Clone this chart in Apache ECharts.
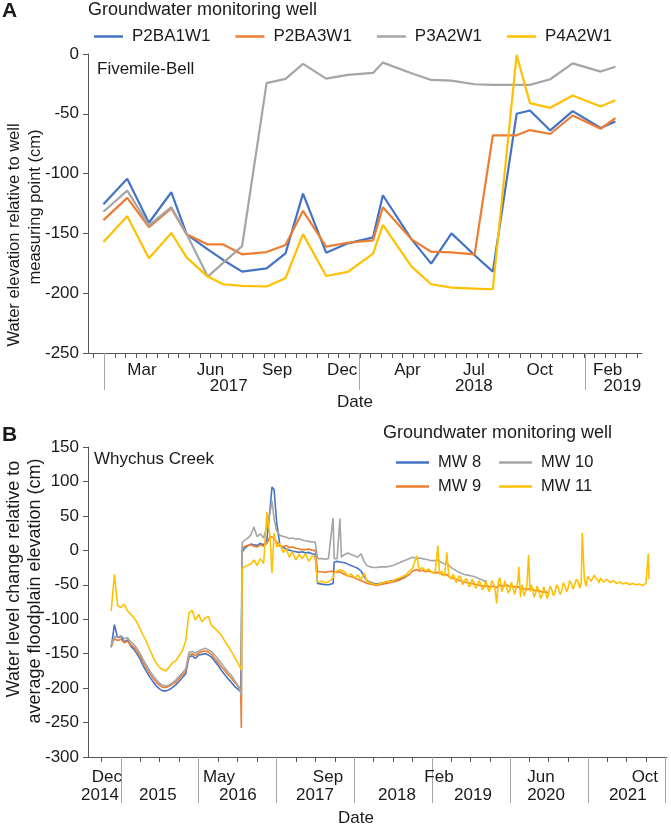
<!DOCTYPE html>
<html><head><meta charset="utf-8">
<script src="https://cdn.jsdelivr.net/npm/echarts@6/dist/echarts.min.js"></script>
<style>html,body{margin:0;padding:0;background:#fff}#c{width:671px;height:826px}</style>
</head><body><div id="c"></div>
<script>
// ---------------- Panel A data (Fivemile-Bell) ----------------
const wellsA = ['P2BA1W1', 'P2BA3W1', 'P3A2W1', 'P4A2W1'];
const datesA = ['2016-12-31','2017-02-03','2017-03-06','2017-04-07','2017-04-29','2017-05-29','2017-06-20','2017-07-17','2017-08-21','2017-09-17','2017-10-12','2017-11-14','2017-12-15','2018-01-20','2018-02-03','2018-03-16','2018-04-13','2018-05-12','2018-06-14','2018-07-10','2018-08-13','2018-09-01','2018-09-30','2018-11-01','2018-12-11','2019-01-01'];
const p2ba1w1 = [-125.6,-104.4,-141.1,-115.6,-150.8,-163.3,-172.2,-182,-179.2,-166.7,-116.7,-166.1,-158.3,-153.3,-118.1,-155,-175.3,-150,-168.3,-182,-50,-47.2,-63.9,-47.8,-61.9,-56.4];
const p2ba3w1 = [-138.9,-120.3,-144.7,-129.2,-150.8,-159.2,-159.2,-167.5,-165.6,-159.7,-131.1,-161.1,-157.8,-155.8,-128.1,-155,-165.3,-165.8,-167.5,-68,-68,-63.6,-66.9,-51.4,-62.5,-53.6];
const p3a2w1 = [-131.9,-114.2,-143.3,-128.1,-150.8,-186.1,-174.7,-160.6,-24.4,-20.8,-8.3,-20.6,-17.5,-15.8,-7.2,-16.1,-21.7,-22.2,-25.3,-25.8,-25.8,-25.8,-21.1,-7.8,-14.7,-10.6];
const p4a2w1 = [-157.2,-135.6,-170.8,-149.7,-170.3,-186.1,-192.5,-193.9,-194.4,-187.5,-150.6,-185.6,-182.2,-166.9,-142.8,-177.8,-192.5,-195.3,-196.1,-196.7,-0.8,-41.1,-45,-34.7,-43.9,-38.6];
const yTicksA = [-250, 0, 50];           // min, max, interval
const monthLabelsA = ['Mar','Jun','Sep','Dec','Apr','Jul','Oct','Feb'];
const monthLabelDatesA = ['2017-02-24','2017-06-02','2017-09-05','2017-12-07','2018-03-10','2018-06-13','2018-09-15','2018-12-21'];
const yearLabelsA = ['2017','2018','2019'];
const yearLabelDatesA = ['2017-06-28','2018-06-13','2019-01-11'];
const yearSepA = ['2017-01-01','2017-12-31','2018-11-19'];

// ---------------- Panel B data (Whychus Creek) ----------------
const wellsB = ['MW 8', 'MW 9', 'MW 10', 'MW 11'];
const datesB = ['2014-11-16','2014-12-01','2014-12-16','2015-01-01','2015-01-16','2015-02-01','2015-02-16','2015-03-01','2015-03-16','2015-04-01',
'2015-04-16','2015-05-01','2015-05-16','2015-06-01','2015-06-16','2015-07-01','2015-07-16','2015-08-01','2015-08-16','2015-09-01',
'2015-09-16','2015-10-01','2015-10-16','2015-11-01','2015-11-16','2015-12-01','2015-12-16','2016-01-01','2016-01-16','2016-02-01',
'2016-02-16','2016-03-01','2016-03-16','2016-04-01','2016-04-16','2016-05-01','2016-05-16','2016-06-01','2016-06-16','2016-07-01',
'2016-07-16','2016-07-19','2016-07-23','2016-08-01','2016-08-16','2016-09-01','2016-09-16','2016-10-01','2016-10-16','2016-11-01',
'2016-11-16','2016-12-01','2016-12-10','2016-12-20','2017-01-01','2017-01-16','2017-02-01','2017-02-16','2017-03-01','2017-03-16',
'2017-04-01','2017-04-16','2017-05-01','2017-05-16','2017-06-01','2017-06-16','2017-07-01','2017-07-12','2017-08-01','2017-08-16',
'2017-09-01','2017-09-23','2017-09-28','2017-10-12','2017-10-25','2017-11-01','2017-11-16','2017-12-01','2017-12-16','2018-01-01',
'2018-01-16','2018-02-01','2018-02-16','2018-03-01','2018-03-16','2018-04-01','2018-04-16','2018-05-01','2018-05-16','2018-06-01',
'2018-06-16','2018-07-01','2018-07-16','2018-08-01','2018-08-16','2018-09-01','2018-09-16','2018-10-01','2018-10-21','2018-11-01',
'2018-11-16','2018-12-01','2018-12-16','2019-01-01','2019-01-16','2019-01-28','2019-02-05','2019-02-16','2019-03-01','2019-03-11',
'2019-03-20','2019-04-01','2019-04-16','2019-05-01','2019-05-16','2019-06-01','2019-06-16','2019-07-01','2019-07-16','2019-08-01',
'2019-08-16','2019-09-01','2019-09-16','2019-10-01','2019-10-16','2019-10-31','2019-11-08','2019-11-16','2019-12-01','2019-12-16',
'2020-01-01','2020-01-16','2020-02-01','2020-02-12','2020-02-20','2020-03-01','2020-03-16','2020-03-29','2020-04-05','2020-04-16',
'2020-05-01','2020-05-16','2020-06-01','2020-06-16','2020-07-01','2020-07-16','2020-08-01','2020-08-16','2020-09-01','2020-09-16',
'2020-10-01','2020-10-16','2020-11-01','2020-11-16','2020-12-01','2020-12-06','2020-12-16','2021-01-01','2021-01-16','2021-02-01',
'2021-02-16','2021-03-01','2021-03-16','2021-04-01','2021-04-16','2021-05-01','2021-05-16','2021-06-01','2021-06-16','2021-07-01',
'2021-07-16','2021-08-01','2021-08-16','2021-09-01','2021-09-16','2021-10-01','2021-10-12','2021-10-16'];
const mw8 = [-141,-108,-127,-125,-133,-130,-139,-143,-150,-158,
-168,-176,-184,-191,-197,-201,-204,-204,-202,-199,
-195,-190,-185,-179,-155,-153,-157,-152,-151,-150,
-152,-155,-161,-167,-174,-180,-186,-191,-197,-201,
-205,-207,-3,2,6,9,8,7,10,8,
15,60,92,88,40,8,4,2,0,-1,
-2,-3,-2,-4,-3,-5,-6,-48,-49,-50,
-50,-48,-17,-16,-17,-16,-18,-20,-22,-24,
-26,-30,-38,-44,-46,-48,-49,-48,-47,-46,
-45,-44,-43,-42,-40,-38];
const mw9 = [-140,-128,-131,-129,-134,-132,-137,-140,-146,-154,
-163,-171,-179,-186,-192,-196,-199,-199,-197,-194,
-191,-186,-181,-175,-152,-150,-153,-149,-147,-146,
-148,-151,-157,-163,-169,-174,-180,-185,-191,-196,
-201,-258,4,6,7,8,6,5,8,6,
10,20,22,18,12,6,5,7,4,5,
3,2,1,1,2,0,0,-31,-31,-32,
-31,-30,-31,-32,-31,-33,-35,-37,-38,-40,
-42,-44,-46,-48,-49,-50,-51,-50,-49,-48,
-47,-46,-45,-43,-41,-38,-35,-30,-28,-30,
-29,-31,-30,-32,-33,-32,-34,-35,-36,-35,
-38,-40,-41,-43,-44,-46,-47,-48,-49,-50,
-51,-52,-52,-53,-52,-54,-52,-50,-52,-50,
-53,-52,-54,-53,-56,-55,-57,-56,-58,-57,
-59,-58,-61,-60,-62];
const mw10 = [-137,-125,-126,-124,-128,-127,-133,-136,-142,-150,
-159,-167,-175,-182,-188,-193,-196,-197,-195,-192,
-188,-183,-178,-172,-148,-147,-149,-146,-144,-142,
-145,-147,-152,-158,-164,-170,-176,-181,-188,-195,
-207,-211,11,14,17,22,34,20,24,18,
35,55,72,45,28,22,20,19,17,18,
16,17,15,14,13,12,12,-12,-12,-13,
-12,47,-12,-12,46,-10,-6,-4,-6,-8,
-10,-5,-16,-22,-24,-25,-25,-24,-24,-24,
-23,-22,-20,-18,-16,-14,-12,-10,-12,-11,
-12,-13,-14,-15,-15,-14,-16,-18,-20,-18,
-22,-25,-28,-31,-33,-35,-36,-37,-38,-40,
-42,-44,-45];
const mw11 = [-88,-35,-80,-83,-78,-88,-93,-97,-104,-114,
-124,-133,-144,-155,-164,-170,-173,-175,-169,-163,
-160,-153,-146,-131,-91,-87,-101,-93,-104,-98,
-96,-109,-113,-118,-123,-131,-138,-146,-154,-163,
-171,-174,-27,-24,-22,-20,-14,-22,-12,-19,
56,20,-33,25,5,10,-3,2,-10,-2,
-14,-6,-12,-5,-16,-8,-11,-46,-45,-47,
-46,-40,-33,-30,-28,-30,-31,-38,-34,-40,
-36,-42,-33,-45,-47,-49,-50,-48,-47,-45,
-46,-44,-42,-40,-38,-35,-30,-26,-8,-28,
-25,-30,-27,-33,-30,7,-35,-30,-38,-3,
-36,-42,-38,-45,-40,-48,-44,-50,-46,-52,
-48,-54,-50,-56,-48,-77,-45,-40,-55,-42,
-58,-48,-52,-24,-68,-50,-58,-7,-60,-55,
-62,-58,-65,-60,-63,-57,-60,-55,-58,-52,
-54,-48,-50,-45,-48,25,-42,-38,-45,-36,
-43,-40,-46,-42,-47,-44,-48,-46,-49,-47,
-50,-48,-50,-49,-51,-48,-5,-42];
// additional (denser) MW 11 readings, 2019-2021
const datesB11x = ['2019-04-08','2019-04-24','2019-05-08','2019-05-24','2019-06-08','2019-06-24','2019-07-08','2019-07-24','2019-08-08','2019-08-24',
'2019-09-08','2019-09-24','2019-10-08','2019-10-24','2019-11-24','2019-12-08','2019-12-24','2020-01-08','2020-01-24','2020-02-08',
'2020-02-26','2020-03-08','2020-03-22','2020-04-10','2020-04-24','2020-05-08','2020-05-24','2020-06-08','2020-06-24','2020-07-08',
'2020-07-24','2020-08-08','2020-08-24','2020-09-08','2020-09-24','2020-10-08','2020-10-24','2020-11-08','2020-11-24','2020-12-24',
'2021-01-08','2021-01-24','2021-02-08','2021-02-24','2021-03-08','2021-03-24','2021-04-08','2021-04-24','2021-05-08','2021-05-24',
'2021-06-08','2021-06-24','2021-07-08','2021-07-24','2021-08-08','2021-08-24','2021-09-08','2021-09-24'];
const mw11x = [-35,-47,-37,-50,-41,-53,-42,-55,-44,-57,
-45,-60,-44,-58,-60,-44,-62,-46,-64,-45,
-50,-66,-47,-50,-68,-52,-70,-53,-70,-52,
-66,-50,-64,-47,-60,-44,-56,-42,-55,-52,
-40,-47,-40,-47,-41,-48,-43,-49,-44,-50,
-45,-51,-46,-51,-47,-51,-47,-52];
const yTicksB = [-300, 150, 50];
const monthLabelsB = ['Dec','May','Sep','Feb','Jun','Oct'];
const monthLabelDatesB = ['2014-10-27','2016-04-05','2017-08-30','2019-02-02','2020-05-26','2021-09-26'];
const yearLabelsB = ['2014','2015','2016','2017','2018','2019','2020','2021'];
const yearLabelDatesB = ['2014-09-24','2015-06-23','2016-07-03','2017-06-30','2018-07-20','2019-07-12','2020-06-19','2021-07-08'];
const yearSepB = ['2015-01-01','2016-01-01','2017-01-01','2018-01-01','2019-01-01','2020-01-01','2021-01-01','2022-01-01'];

// ---------------- helpers ----------------
const DAY = 86400000;
const ts = d => Date.parse(d + 'T00:00:00Z');
const pairs = (dates, vals) => vals.map((v, i) => [ts(dates[i]), v]).filter(p => p[1] != null);
const labelMap = (dates, texts) => { const m = new Map(); dates.forEach((d, i) => m.set(ts(d), texts[i])); return m; };
const colors = ['#4472C4', '#ED7D31', '#A5A5A5', '#FFC000'];
const FONT = '"Liberation Sans", Arial, sans-serif';
const AX = '#555555';
const TXT = '#1a1a1a';

const minA = ts('2016-12-09'), maxA = ts('2019-02-08');
const minB = ts('2014-07-30'), maxB = ts('2022-01-08');

const minorTicksA = [];
for (let t = ts('2017-01-01') - 365.25 / 24 * DAY; t <= maxA; t += 365.25 / 24 * DAY) if (t >= minA) minorTicksA.push(t);
const quarterTicksB = [];
for (let y = 2014; y <= 2021; y++) for (const m of ['01', '04', '07', '10']) { const t = ts(y + '-' + m + '-01'); if (t >= minB && t <= maxB) quarterTicksB.push(t); }

const mapMonthA = labelMap(monthLabelDatesA, monthLabelsA);
const mapYearA = labelMap(yearLabelDatesA, yearLabelsA);
const mapMonthB = labelMap(monthLabelDatesB, monthLabelsB);
const mapYearB = labelMap(yearLabelDatesB, yearLabelsB);

function xAxes(grid, min, max, minorTicks, monthDates, monthMap, sepDates, yearDates, yearMap, sepLen, mMargin, yMargin) {
  return [{
    type: 'value', gridIndex: grid, min, max, position: 'bottom',
    axisLine: { show: true, onZero: false, lineStyle: { color: AX, width: 1 } },
    axisTick: { show: true, customValues: minorTicks, length: 5, lineStyle: { color: AX } },
    axisLabel: { show: true, customValues: monthDates.map(ts), formatter: v => monthMap.get(v) || '', fontSize: 17, fontFamily: FONT, color: TXT, margin: mMargin },
    splitLine: { show: false }
  }, {
    type: 'value', gridIndex: grid, min, max, position: 'bottom',
    axisLine: { show: false, onZero: false },
    axisTick: { show: true, customValues: sepDates.map(ts), length: sepLen, lineStyle: { color: '#a6a6a6' } },
    axisLabel: { show: true, customValues: yearDates.map(ts), formatter: v => yearMap.get(v) || '', fontSize: 17, fontFamily: FONT, color: TXT, margin: yMargin },
    splitLine: { show: false }
  }];
}
function yAxis(grid, t) {
  return {
    type: 'value', gridIndex: grid, min: t[0], max: t[1], interval: t[2], position: 'left',
    axisLine: { show: true, onZero: false, lineStyle: { color: AX, width: 1 } },
    axisTick: { show: true, length: 5, lineStyle: { color: AX } },
    axisLabel: { fontSize: 17, fontFamily: FONT, color: TXT, margin: 9 },
    splitLine: { show: false }
  };
}
function txt(text, x, y, size, opts) {
  opts = opts || {};
  return {
    type: 'text', x, y, rotation: opts.rot || 0, silent: true,
    style: {
      text, fontSize: size, fontFamily: FONT, fontWeight: opts.bold ? 'bold' : 'normal', fill: TXT,
      textAlign: opts.align || 'left', align: opts.align || 'left',
      textVerticalAlign: 'middle', verticalAlign: 'middle'
    }
  };
}

const seriesA = [p2ba1w1, p2ba3w1, p3a2w1, p4a2w1].map((vals, i) => ({
  type: 'line', name: wellsA[i], xAxisIndex: 0, yAxisIndex: 0, data: pairs(datesA, vals),
  symbol: 'none', lineStyle: { width: 2.2, color: colors[i] }, itemStyle: { color: colors[i] }, z: 2 + i
}));
const dataB = [pairs(datesB, mw8), pairs(datesB, mw9), pairs(datesB, mw10),
  pairs(datesB, mw11).concat(pairs(datesB11x, mw11x)).sort((a, b) => a[0] - b[0])];
const seriesB = dataB.map((d, i) => ({
  type: 'line', name: wellsB[i], xAxisIndex: 2, yAxisIndex: 1, data: d,
  symbol: 'none', lineStyle: { width: 1.6, color: colors[i] }, itemStyle: { color: colors[i] }, z: 2 + i
}));

const legendBase = { icon: 'rect', itemHeight: 2.5, textStyle: { fontFamily: FONT, color: TXT, padding: [0, 0, 0, 4] } };

const chart = echarts.init(document.getElementById('c'), null, { renderer: 'canvas' });
chart.setOption({
  animation: false,
  backgroundColor: '#fff',
  grid: [
    { left: 88, top: 54, width: 554, height: 299 },
    { left: 88, top: 447, width: 579, height: 310 }
  ],
  xAxis: [
    ...xAxes(0, minA, maxA, minorTicksA, monthLabelDatesA, mapMonthA, yearSepA, yearLabelDatesA, mapYearA, 37, 9, 25),
    ...xAxes(1, minB, maxB, quarterTicksB, monthLabelDatesB, mapMonthB, yearSepB, yearLabelDatesB, mapYearB, 46, 12, 30)
  ],
  yAxis: [yAxis(0, yTicksA), yAxis(1, yTicksB)],
  legend: [
    Object.assign({}, legendBase, { data: wellsA, left: 89, top: 23, itemWidth: 29, itemGap: 25, textStyle: Object.assign({}, legendBase.textStyle, { fontSize: 17 }) }),
    Object.assign({}, legendBase, { data: ['MW 8', 'MW 10'], left: 391, top: 449, itemWidth: 33, itemGap: 18, textStyle: Object.assign({}, legendBase.textStyle, { fontSize: 16.5 }) }),
    Object.assign({}, legendBase, { data: ['MW 9', 'MW 11'], left: 391, top: 473, itemWidth: 33, itemGap: 18, textStyle: Object.assign({}, legendBase.textStyle, { fontSize: 16.5 }) })
  ],
  graphic: [
    txt('A', 2, 11, 21, { bold: true }),
    txt('Groundwater monitoring well', 88, 10, 18),
    txt('Fivemile-Bell', 97, 69, 17),
    txt('Water elevation relative to well', 14, 235, 16.5, { rot: Math.PI / 2, align: 'center' }),
    txt('measuring point (cm)', 35, 207, 16.5, { rot: Math.PI / 2, align: 'center' }),
    txt('Date', 355, 402, 17, { align: 'center' }),
    txt('B', 2, 435, 21, { bold: true }),
    txt('Groundwater monitoring well', 383, 433, 18),
    txt('Whychus Creek', 94, 459, 17),
    txt('Water level change relative to', 14, 579, 18, { rot: Math.PI / 2, align: 'center' }),
    txt('average floodplain elevation (cm)', 35, 591, 18, { rot: Math.PI / 2, align: 'center' }),
    txt('Date', 356, 818, 17, { align: 'center' })
  ],
  series: [...seriesA, ...seriesB]
});
</script>
</body></html>
